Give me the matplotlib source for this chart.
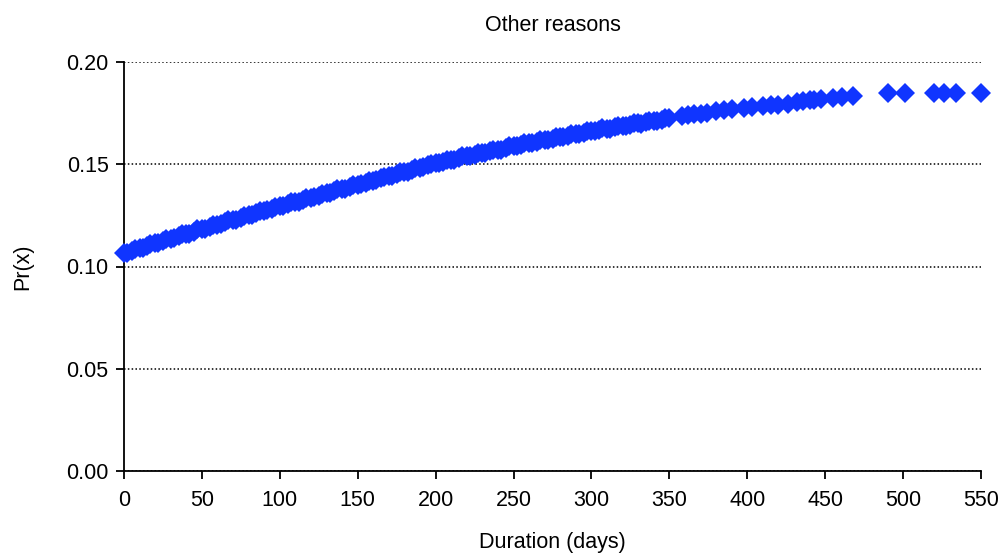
import matplotlib
matplotlib.use("Agg")
import matplotlib.pyplot as plt

plt.rcParams['font.family'] = ['Liberation Sans', 'DejaVu Sans']

# duration in days and estimated probability
days = [0, 5, 10, 15, 20, 25, 30, 35, 40, 45, 50, 55, 60, 65, 70, 75, 80, 85, 90, 95,
        100, 105, 110, 115, 120, 125, 130, 135, 140, 145, 150, 155, 160, 165, 170, 175,
        180, 185, 190, 195, 200, 205, 210, 215, 220, 225, 230, 235, 240, 245, 250, 255,
        260, 265, 270, 275, 280, 285, 290, 295, 300, 305, 310, 315, 320, 325, 330, 335,
        340, 345, 350, 358, 362, 366, 370, 374, 380, 385, 390, 398, 403, 410, 415, 420,
        426, 432, 436, 440, 443, 447, 455, 461, 468, 490, 501, 520, 526, 534, 550]
prob = [0.1065, 0.1078, 0.1090, 0.1101, 0.1113, 0.1124, 0.1136, 0.1148, 0.1159, 0.1171,
        0.1182, 0.1193, 0.1205, 0.1216, 0.1227, 0.1238, 0.1250, 0.1261, 0.1272, 0.1283,
        0.1294, 0.1305, 0.1315, 0.1326, 0.1336, 0.1347, 0.1357, 0.1368, 0.1378, 0.1389,
        0.1399, 0.1410, 0.1420, 0.1431, 0.1441, 0.1452, 0.1462, 0.1473, 0.1483, 0.1494,
        0.1504, 0.1513, 0.1522, 0.1530, 0.1538, 0.1547, 0.1555, 0.1563, 0.1571, 0.1579,
        0.1587, 0.1595, 0.1603, 0.1610, 0.1618, 0.1625, 0.1633, 0.1640, 0.1647, 0.1654,
        0.1661, 0.1668, 0.1674, 0.1681, 0.1687, 0.1693, 0.1700, 0.1706, 0.1712, 0.1718,
        0.1724, 0.1738, 0.1742, 0.1745, 0.1748, 0.1752, 0.1762, 0.1766, 0.1770, 0.1776,
        0.1778, 0.1785, 0.1789, 0.1791, 0.1797, 0.1805, 0.1810, 0.1812, 0.1814, 0.1818,
        0.1825, 0.1829, 0.1836, 0.1848, 0.1848, 0.1848, 0.1848, 0.1848, 0.1848]

# in-between observations of the dense part (band is a few thousandths thick)
days_extra = [2, 7, 12, 17, 22, 27, 32, 37, 42, 47, 52, 57, 62, 67, 72, 77, 82, 87, 92, 97,
              102, 107, 112, 117, 122, 127, 132, 137, 142, 147, 152, 157, 162, 167, 172,
              177, 182, 187, 192, 197, 202, 207, 212, 217, 222, 227, 232, 237, 242, 247,
              252, 257, 262, 267, 272, 277, 282, 287, 292, 297, 302, 307, 312, 317, 322,
              327, 332, 337, 342, 347]
prob_extra = [0.1067, 0.1088, 0.1092, 0.1111, 0.1115, 0.1134, 0.1138, 0.1158, 0.1161, 0.1181,
              0.1184, 0.1203, 0.1207, 0.1226, 0.1229, 0.1248, 0.1252, 0.1271, 0.1274, 0.1293,
              0.1296, 0.1314, 0.1317, 0.1335, 0.1338, 0.1356, 0.1359, 0.1377, 0.1380, 0.1398,
              0.1401, 0.1419, 0.1422, 0.1440, 0.1443, 0.1461, 0.1464, 0.1482, 0.1485, 0.1503,
              0.1505, 0.1521, 0.1522, 0.1538, 0.1539, 0.1555, 0.1555, 0.1571, 0.1571, 0.1587,
              0.1587, 0.1603, 0.1603, 0.1618, 0.1618, 0.1633, 0.1633, 0.1647, 0.1647, 0.1661,
              0.1661, 0.1675, 0.1674, 0.1688, 0.1686, 0.1700, 0.1699, 0.1713, 0.1711, 0.1725]

xticks = [0, 50, 100, 150, 200, 250, 300, 350, 400, 450, 500, 550]
yticks = [0.00, 0.05, 0.10, 0.15, 0.20]

fig = plt.figure(figsize=(10.05, 5.57), dpi=100)
ax = fig.add_axes([124 / 1005, 1 - 471 / 557, (981 - 124) / 1005, (471 - 62) / 557])

marker_style = dict(linestyle='none', marker='D', markersize=10.5, color='#1035ff',
                    markeredgewidth=0, clip_on=False, zorder=3)
ax.plot(days, prob, **marker_style)
ax.plot(days_extra, prob_extra, **marker_style)

ax.set_xlim(0, 550)
ax.set_ylim(0, 0.20)
ax.set_xticks(xticks)
ax.set_yticks(yticks)
ax.set_yticklabels([f"{v:.2f}" for v in yticks])

ax.grid(axis='y', linestyle=(0, (1, 1.5)), color='black', linewidth=1.1)
ax.set_axisbelow(True)
for side in ['top', 'right']:
    ax.spines[side].set_visible(False)
for side in ['left', 'bottom']:
    ax.spines[side].set_linewidth(1.3)
ax.tick_params(direction='out', length=6, width=1.3, labelsize=15.5)
ax.tick_params(axis='y', pad=5)
ax.tick_params(axis='x', pad=8)

ax.set_title("Other reasons", fontsize=15.5, pad=22)
ax.set_xlabel("Duration (days)", fontsize=15.5, labelpad=15)
ax.set_ylabel("Pr(x)", fontsize=15.5, labelpad=24)

fig.savefig("out.png", dpi=100)
